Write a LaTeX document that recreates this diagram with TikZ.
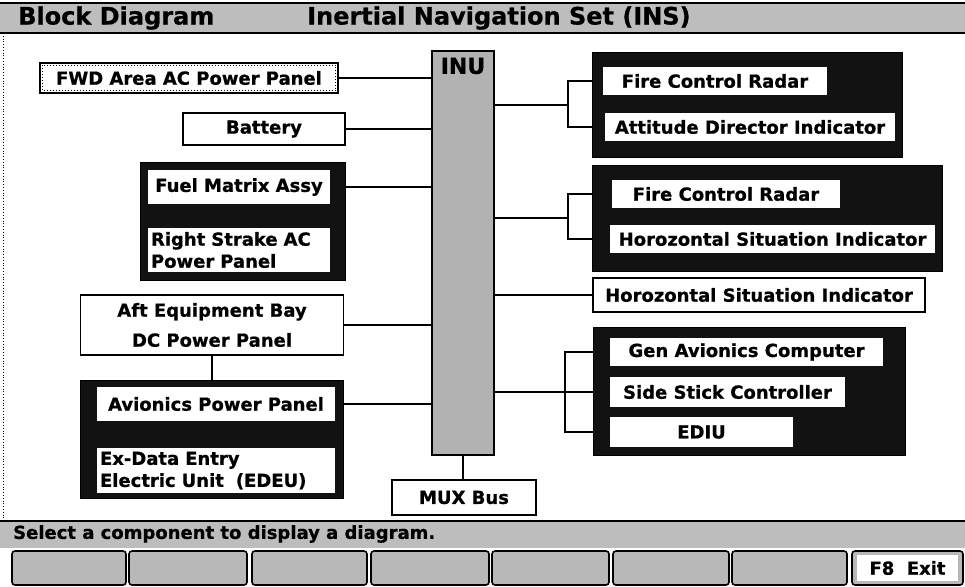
\documentclass[tikz,border=0pt]{standalone}
\usepackage{fontspec}
\setmainfont{DejaVu Sans}[BoldFeatures={FakeBold=0.8}]
\definecolor{tgray}{gray}{0.74}
\definecolor{inugray}{gray}{0.70}
\definecolor{darkfill}{gray}{0.07}
\definecolor{btngray}{gray}{0.72}
\begin{document}
\begin{tikzpicture}[x=1pt,y=-1pt,
  txt/.style={font=\fontsize{18}{22}\selectfont\bfseries},
  wbox/.style={txt,draw=black,line width=1.6pt,fill=white,inner sep=0pt},
  dbox/.style={draw=black,line width=1pt,fill=darkfill,inner sep=0pt},
  ibox/.style={txt,fill=white,draw=none,inner sep=0pt},
  lbox/.style={ibox,align=left,inner xsep=3pt},
  conn/.style={line width=1.8pt},
  btn/.style={draw=black,line width=1.6pt,fill=btngray,rounded corners=3pt,minimum height=34pt,inner sep=0pt}
]
\useasboundingbox (0,0) rectangle (965,586);
\fill[white] (0,0) rectangle (965,586);

% title bar
\fill[tgray] (0,3) rectangle (965,33);
\draw[line width=2pt] (0,3) -- (965,3);
\draw[line width=2pt] (0,33) -- (965,33);
\node[anchor=west,inner sep=0pt,font=\fontsize{24}{26}\selectfont\bfseries] (t1) at (18,18) {Block Diagram};
\node[anchor=west,inner sep=0pt,font=\fontsize{24}{26}\selectfont\bfseries] (t2) at (307,18) {Inertial Navigation Set (INS)};

% left dotted edge
\draw[dotted,line width=0.8pt] (3,33) -- (3,521);

% INU and bus
\node[draw=black,line width=1.6pt,fill=inugray,minimum width=62pt,minimum height=404pt,inner sep=0pt] (inu) at (463,253) {};
\node[font=\fontsize{22}{24}\selectfont\bfseries,inner sep=0pt] (inulbl) at (463,66) {INU};
\node[wbox,minimum width=144pt,minimum height=35pt] (mux) at (464,497.5) {MUX Bus};

% left side
\node[wbox,minimum width=298pt,minimum height=30pt] (fwd) at (189,78) {FWD Area AC Power Panel};
\draw[dotted,line width=1pt] ([shift={(3,3)}]fwd.north west) rectangle ([shift={(-3,-3)}]fwd.south east);
\node[wbox,minimum width=162pt,minimum height=32pt] (bat) at (264,129) {Battery};

\node[dbox,minimum width=205pt,minimum height=118pt] (fuelgrp) at (242.5,221) {};
\node[ibox,minimum width=182pt,minimum height=34pt] (fuel) at (239,187) {Fuel Matrix Assy};
\node[lbox,text width=176pt,minimum height=44pt] (rsac) at (239,250) {Right Strake AC\\Power Panel};

\node[wbox,minimum width=263pt,minimum height=60pt,align=center,font=\fontsize{18}{30}\selectfont\bfseries] (aft) at (212,325) {Aft Equipment Bay\\DC Power Panel};

\node[dbox,minimum width=263pt,minimum height=118pt] (avgrp) at (212,439) {};
\node[ibox,minimum width=238pt,minimum height=34pt] (avp) at (216,404) {Avionics Power Panel};
\node[lbox,text width=232pt,minimum height=45pt] (edeu) at (216,470.5) {Ex-Data Entry\\Electric Unit\ \ (EDEU)};

% right side, group 1
\node[dbox,minimum width=310pt,minimum height=104pt] (g1) at (747,105) {};
\node[ibox,minimum width=224pt,minimum height=28pt] (fcr1) at (715,81) {Fire Control Radar};
\node[ibox,minimum width=290pt,minimum height=28pt] (adi) at (750,127) {Attitude Director Indicator};

% group 2
\node[dbox,minimum width=350pt,minimum height=106pt] (g2) at (767,218) {};
\node[ibox,minimum width=228pt,minimum height=28pt] (fcr2) at (726,194) {Fire Control Radar};
\node[ibox,minimum width=325pt,minimum height=28pt] (hsi1) at (772.5,239) {Horozontal Situation Indicator};

% standalone HSI
\node[wbox,minimum width=332pt,minimum height=34pt] (hsi2) at (759,295) {Horozontal Situation Indicator};

% group 3
\node[dbox,minimum width=312pt,minimum height=128pt] (g3) at (749,391) {};
\node[ibox,minimum width=273pt,minimum height=28pt] (gac) at (746.5,352) {Gen Avionics Computer};
\node[ibox,minimum width=235pt,minimum height=30pt] (ssc) at (727.5,392) {Side Stick Controller};
\node[ibox,minimum width=183pt,minimum height=30pt] (ediu) at (701.5,432) {EDIU};

% connectors left
\draw[conn] (fwd.east) -- (fwd.east -| inu.west);
\draw[conn] (bat.east) -- (bat.east -| inu.west);
\draw[conn] (fuel.east -| fuelgrp.east) -- (fuel.east -| inu.west);
\draw[conn] (aft.east) -- (aft.east -| inu.west);
\draw[conn] (aft.south) -- (avgrp.north);
\draw[conn] (avp.east -| avgrp.east) -- (avp.east -| inu.west);
\draw[conn] (inu.south) -- (inu.south |- mux.north);

% connectors right
\coordinate (b1) at (568,0);
\coordinate (b3) at (565,0);
\draw[conn] (inu.east |- g1.center) -- (b1 |- g1.center);
\draw[conn] (fcr1.west -| g1.west) -- (b1 |- fcr1.west) -- (b1 |- adi.west) -- (adi.west -| g1.west);
\draw[conn] (inu.east |- g2.center) -- (b1 |- g2.center);
\draw[conn] (fcr2.west -| g2.west) -- (b1 |- fcr2.west) -- (b1 |- hsi1.west) -- (hsi1.west -| g2.west);
\draw[conn] (inu.east |- hsi2.west) -- (hsi2.west);
\draw[conn] (inu.east |- ssc.west) -- (ssc.west -| g3.west);
\draw[conn] (gac.west -| g3.west) -- (b3 |- gac.west) -- (b3 |- ediu.west) -- (ediu.west -| g3.west);

% status bar
\fill[tgray] (0,521) rectangle (965,548);
\draw[line width=2pt] (0,521) -- (965,521);
\node[anchor=west,inner sep=0pt,txt] (status) at (13,534) {Select a component to display a diagram.};

% function keys
\foreach \a/\b [count=\i] in {12/126,129/247,252/367,371/489,492/609,613/729,732/847}
  \node[btn,minimum width=\b-\a] (key\i) at ({(\a+\b)/2},568) {};
\node[btn,minimum width=111pt] (key8) at (907.5,568) {};
\node[ibox,fill=white,minimum width=101pt,minimum height=26pt] (exitkey) at (907.5,568) {F8\ \ Exit};
\end{tikzpicture}
\end{document}
